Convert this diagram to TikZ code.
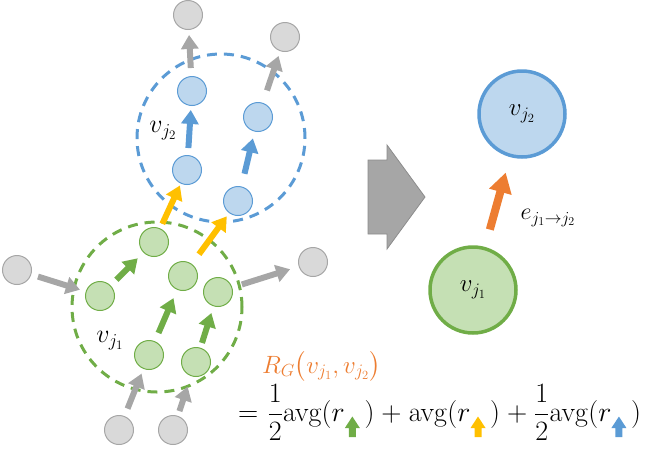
\RequirePackage{fix-cm}
\documentclass[tikz,border=0pt]{standalone}
\usepackage{amsmath}
\usetikzlibrary{arrows.meta}
\definecolor{cgreen}{HTML}{70AD47}
\definecolor{cgreenf}{HTML}{C5E0B4}
\definecolor{cblue}{HTML}{5B9BD5}
\definecolor{cbluef}{HTML}{BDD7EE}
\definecolor{cgray}{HTML}{A6A6A6}
\definecolor{cgrayf}{HTML}{D9D9D9}
\definecolor{cgrayd}{HTML}{8C8C8C}
\definecolor{corange}{HTML}{ED7D31}
\definecolor{cyellow}{HTML}{FFC000}
\newcommand{\myarr}[1]{\tikz[x=1pt,y=1pt,baseline=0pt]\fill[#1] (-3.5,-16)--(3.5,-16)--(3.5,-7)--(7.5,-7)--(0,4.5)--(-7.5,-7)--(-3.5,-7)--cycle;}
\tikzset{
  small/.style={circle, minimum size=29pt, inner sep=0pt, line width=1pt},
  gnode/.style={small, draw=cgreen, fill=cgreenf},
  bnode/.style={small, draw=cblue, fill=cbluef},
  grnode/.style={small, draw=cgray, fill=cgrayf},
  bignode/.style={circle, minimum size=86pt, inner sep=0pt, line width=3.5pt, font=\fontsize{25}{30}\selectfont},
  lab/.style={inner sep=0pt, font=\fontsize{26}{30}\selectfont},
  elabel/.style={inner sep=0pt, font=\fontsize{24}{28}\selectfont},
  arrbase/.style={line width=6pt, -{Triangle[length=14pt,width=17pt]}},
  garr/.style={arrbase, draw=cgray},
  grarr/.style={arrbase, draw=cgreen},
  barr/.style={arrbase, draw=cblue},
  yarr/.style={arrbase, draw=cyellow},
  oarr/.style={line width=8pt, draw=corange, -{Triangle[length=20pt,width=22pt]}},
  dashcirc/.style={line width=3pt, dash pattern=on 10pt off 7pt},
  formula/.style={inner sep=0pt, anchor=base west, font=\fontsize{28}{32}\selectfont}
}
\begin{document}
\begin{tikzpicture}[x=1pt,y=-1pt]
\useasboundingbox (0,0) rectangle (647,448);
% dashed groups
\draw[dashcirc, cblue] (221,138) circle[radius=84pt];
\draw[dashcirc, cgreen] (157,307) circle[radius=85pt];
% gray nodes
\node[grnode] (t1) at (188,15) {};
\node[grnode] (t2) at (285,37) {};
\node[grnode] (l1) at (17,270) {};
\node[grnode] (r1) at (313,262) {};
\node[grnode] (b1) at (119,430) {};
\node[grnode] (b2) at (173,430) {};
% blue nodes
\node[bnode] (ba) at (192,91) {};
\node[bnode] (bb) at (258,117) {};
\node[bnode] (bc) at (187,170) {};
\node[bnode] (bd) at (238,201) {};
% green nodes
\node[gnode] (g1) at (154,242) {};
\node[gnode] (g2) at (100,296) {};
\node[gnode] (g3) at (183,276) {};
\node[gnode] (g4) at (218,292) {};
\node[gnode] (g5) at (149,355) {};
\node[gnode] (g6) at (196,362) {};
% labels
\node[lab] (lv2) at (163,131) {$v_{j_2}$};
\node[lab] (lv1) at (110,341) {$v_{j_1}$};
% arrows
\draw[garr, shorten <=8pt, shorten >=5pt] (ba) -- (t1);
\draw[barr, shorten <=7pt, shorten >=4pt] (bc) -- (ba);
\draw[barr, shorten <=13pt, shorten >=7pt] (bd) -- (bb);
\draw[garr, shorten <=13pt, shorten >=5pt] (bb) -- (t2);
\draw[yarr, shorten <=5pt, shorten >=2pt] (g1) -- (bc);
\draw[yarr, shorten <=12pt, shorten >=4pt] (g3) -- (bd);
\draw[garr, shorten <=7pt, shorten >=6pt] (l1) -- (g2);
\draw[grarr, shorten <=8pt, shorten >=8pt] (g2) -- (g1);
\draw[grarr, shorten <=9pt, shorten >=9pt] (g5) -- (g3);
\draw[grarr, shorten <=5pt, shorten >=7pt] (g6) -- (g4);
\draw[garr, shorten <=10pt, shorten >=9pt] (g4) -- (r1);
\draw[garr, shorten <=8pt, shorten >=5pt] (b1) -- (g5);
\draw[garr, shorten <=5pt, shorten >=11pt] (b2) -- (g6);
% big gray block arrow
\filldraw[fill=cgray, draw=cgrayd, line width=0.8pt]
  (368,160) -- (387,160) -- (387,145) -- (425,197) -- (387,249) -- (387,234) -- (368,234) -- cycle;
% right side
\node[bignode, draw=cblue, fill=cbluef] (V2) at (522,114) {$v_{j_2}$};
\node[bignode, draw=cgreen, fill=cgreenf] (V1) at (473,290) {$v_{j_1}$};
\draw[oarr, shorten <=18pt, shorten >=16pt] (V1) -- (V2);
\node[elabel] (elab) at (548,218) {$e_{j_1\rightarrow j_2}$};
% formula
\node[formula, text=corange, font=\fontsize{25}{30}\selectfont] (rg) at (262,373) {$R_G\bigl(v_{j_1},v_{j_2}\bigr)$};
\node[formula] (eq) at (238,421) {\medmuskip=4.5mu\thickmuskip=6mu$=\dfrac{1}{2}\mathrm{avg}(r\myarr{cgreen}\,)+\mathrm{avg}(r\myarr{cyellow}\,)+\dfrac{1}{2}\mathrm{avg}(r\myarr{cblue}\,)$};
\end{tikzpicture}
\end{document}
